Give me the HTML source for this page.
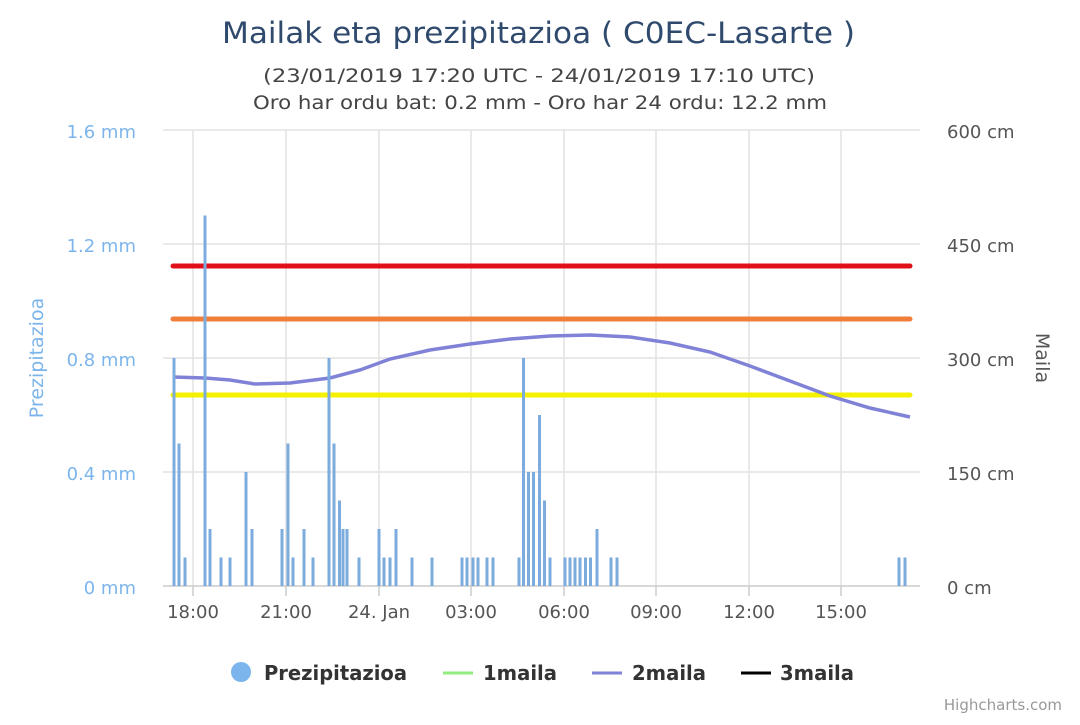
<!DOCTYPE html><html><head><style>body{margin:0;background:#fff}svg{font-family:"DejaVu Sans","Liberation Sans",sans-serif}</style></head><body>
<svg width="1080" height="720" xmlns="http://www.w3.org/2000/svg">
<text x="222" y="43" textLength="633" lengthAdjust="spacingAndGlyphs" font-size="29" fill="#2f4a6d">Mailak eta prezipitazioa ( C0EC-Lasarte )</text>
<text x="263" y="82" textLength="552" lengthAdjust="spacingAndGlyphs" font-size="19" fill="#444">(23/01/2019 17:20 UTC - 24/01/2019 17:10 UTC)</text>
<text x="253" y="109" textLength="574" lengthAdjust="spacingAndGlyphs" font-size="19" fill="#444">Oro har ordu bat: 0.2 mm - Oro har 24 ordu: 12.2 mm</text>
<g stroke="#e2e2e2" stroke-width="1.5">
<line x1="163" x2="920" y1="130" y2="130"/><line x1="163" x2="920" y1="244" y2="244"/><line x1="163" x2="920" y1="358" y2="358"/><line x1="163" x2="920" y1="472" y2="472"/>
<line x1="193" x2="193" y1="130" y2="586"/><line x1="286" x2="286" y1="130" y2="586"/><line x1="379" x2="379" y1="130" y2="586"/><line x1="471" x2="471" y1="130" y2="586"/><line x1="564" x2="564" y1="130" y2="586"/><line x1="656" x2="656" y1="130" y2="586"/><line x1="749" x2="749" y1="130" y2="586"/><line x1="841" x2="841" y1="130" y2="586"/>
</g>
<line x1="163" x2="920" y1="586" y2="586" stroke="#ccc" stroke-width="1.5"/>
<g stroke="#ccc" stroke-width="1.5"><line x1="193" x2="193" y1="586" y2="596"/><line x1="286" x2="286" y1="586" y2="596"/><line x1="379" x2="379" y1="586" y2="596"/><line x1="471" x2="471" y1="586" y2="596"/><line x1="564" x2="564" y1="586" y2="596"/><line x1="656" x2="656" y1="586" y2="596"/><line x1="749" x2="749" y1="586" y2="596"/><line x1="841" x2="841" y1="586" y2="596"/></g>
<g font-size="18" fill="#7cb5ec" text-anchor="end"><text x="136" y="138">1.6 mm</text><text x="136" y="252">1.2 mm</text><text x="136" y="366">0.8 mm</text><text x="136" y="480">0.4 mm</text><text x="136" y="594">0 mm</text></g>
<g font-size="18" fill="#555"><text x="947" y="138">600 cm</text><text x="947" y="252">450 cm</text><text x="947" y="366">300 cm</text><text x="947" y="480">150 cm</text><text x="947" y="594">0 cm</text></g>
<g font-size="18" fill="#555" text-anchor="middle"><text x="193" y="618">18:00</text><text x="286" y="618">21:00</text><text x="379" y="618">24. Jan</text><text x="471" y="618">03:00</text><text x="564" y="618">06:00</text><text x="656" y="618">09:00</text><text x="749" y="618">12:00</text><text x="841" y="618">15:00</text></g>
<text transform="translate(43,358) rotate(-90)" text-anchor="middle" font-size="19" fill="#7cb5ec">Prezipitazioa</text>
<text transform="translate(1036,358) rotate(90)" text-anchor="middle" font-size="19" fill="#555">Maila</text>
<line x1="173" x2="910" y1="266" y2="266" stroke="#e0101a" stroke-width="5" stroke-linecap="round"/>
<line x1="173" x2="910" y1="319" y2="319" stroke="#f07f3c" stroke-width="5" stroke-linecap="round"/>
<line x1="173" x2="910" y1="395" y2="395" stroke="#f5f000" stroke-width="5" stroke-linecap="round"/>
<polyline fill="none" stroke="#7f82d6" stroke-width="3.5" points="173,377 205,378 230,380 255,384 290,383 330,378 360,370 390,359 430,350 470,344 510,339 550,336 590,335 630,337 670,343 710,352 750,366 790,381 830,396 870,408 910,417"/>
<circle cx="241" cy="672" r="10" fill="#7cb5ec"/><text x="264" y="680" textLength="143" lengthAdjust="spacingAndGlyphs" font-size="20" font-weight="bold" fill="#333">Prezipitazioa</text>
<line x1="443" x2="473" y1="673" y2="673" stroke="#90ed7d" stroke-width="3"/><text x="483" y="680" textLength="74" lengthAdjust="spacingAndGlyphs" font-size="20" font-weight="bold" fill="#333">1maila</text>
<line x1="592" x2="622" y1="673" y2="673" stroke="#7f82d6" stroke-width="3"/><text x="632" y="680" textLength="74" lengthAdjust="spacingAndGlyphs" font-size="20" font-weight="bold" fill="#333">2maila</text>
<line x1="741" x2="771" y1="673" y2="673" stroke="#000" stroke-width="3"/><text x="780" y="680" textLength="74" lengthAdjust="spacingAndGlyphs" font-size="20" font-weight="bold" fill="#333">3maila</text>
<text x="1062" y="710" text-anchor="end" font-size="15" fill="#999">Highcharts.com</text>
<g fill="#7cabde">
<rect x="172.5" y="358" width="3" height="228"/><rect x="177.5" y="443.5" width="3" height="142.5"/><rect x="183.5" y="557.5" width="3" height="28.5"/><rect x="203.5" y="215.5" width="3" height="370.5"/><rect x="208.5" y="529" width="3" height="57"/><rect x="219.5" y="557.5" width="3" height="28.5"/><rect x="228.5" y="557.5" width="3" height="28.5"/><rect x="244.5" y="472" width="3" height="114"/><rect x="250.5" y="529" width="3" height="57"/><rect x="280.5" y="529" width="3" height="57"/><rect x="286.5" y="443.5" width="3" height="142.5"/><rect x="291.5" y="557.5" width="3" height="28.5"/><rect x="302.5" y="529" width="3" height="57"/><rect x="311.5" y="557.5" width="3" height="28.5"/><rect x="327.5" y="358" width="3" height="228"/><rect x="332.5" y="443.5" width="3" height="142.5"/><rect x="338" y="500.5" width="3" height="85.5"/><rect x="341.5" y="529" width="3" height="57"/><rect x="345.5" y="529" width="3" height="57"/><rect x="357.5" y="557.5" width="3" height="28.5"/><rect x="377.5" y="529" width="3" height="57"/><rect x="382.5" y="557.5" width="3" height="28.5"/><rect x="388.5" y="557.5" width="3" height="28.5"/><rect x="394.5" y="529" width="3" height="57"/><rect x="410.5" y="557.5" width="3" height="28.5"/><rect x="430.5" y="557.5" width="3" height="28.5"/><rect x="460.5" y="557.5" width="3" height="28.5"/><rect x="465.5" y="557.5" width="3" height="28.5"/><rect x="471.5" y="557.5" width="3" height="28.5"/><rect x="476.5" y="557.5" width="3" height="28.5"/><rect x="485.5" y="557.5" width="3" height="28.5"/><rect x="491.5" y="557.5" width="3" height="28.5"/><rect x="517.5" y="557.5" width="3" height="28.5"/><rect x="522" y="358" width="3" height="228"/><rect x="527" y="472" width="3" height="114"/><rect x="532" y="472" width="3" height="114"/><rect x="538" y="415" width="3" height="171"/><rect x="543" y="500.5" width="3" height="85.5"/><rect x="548.5" y="557.5" width="3" height="28.5"/><rect x="563.5" y="557.5" width="3" height="28.5"/><rect x="568.5" y="557.5" width="3" height="28.5"/><rect x="573.5" y="557.5" width="3" height="28.5"/><rect x="578.5" y="557.5" width="3" height="28.5"/><rect x="584" y="557.5" width="3" height="28.5"/><rect x="589" y="557.5" width="3" height="28.5"/><rect x="595.5" y="529" width="3" height="57"/><rect x="609.5" y="557.5" width="3" height="28.5"/><rect x="615.5" y="557.5" width="3" height="28.5"/><rect x="897.5" y="557.5" width="3" height="28.5"/><rect x="903.5" y="557.5" width="3" height="28.5"/>
</g>
</svg></body></html>
